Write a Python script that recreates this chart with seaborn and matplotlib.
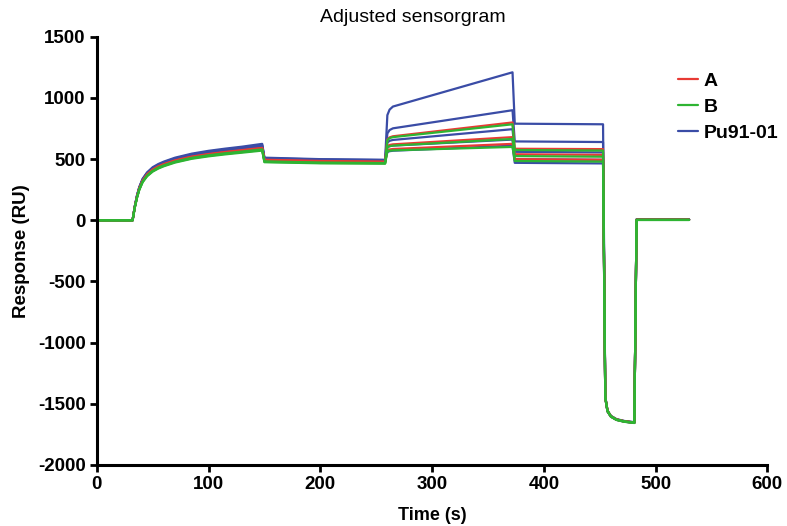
import numpy as np
import pandas as pd
import matplotlib
matplotlib.use("Agg")
import matplotlib.pyplot as plt
import seaborn as sns

# shared time grid (s)
time_s = [0, 32, 34, 36, 38, 41, 45, 50, 55, 60, 70, 85, 100, 115, 130, 148,
          150, 200, 258, 260, 262, 265, 372, 374, 453, 455, 457, 460, 465, 472, 481,
          483, 530]

# Pu91-01 curves (RU)
pu_1 = [0, 0, 115, 205, 272, 340, 392, 434, 460, 480, 512, 545, 568, 586, 602, 625,
        512, 500, 495, 860, 905, 930, 1210, 790, 785, -1440, -1555, -1598, -1625, -1640, -1650,
        8, 8]
pu_2 = [0, 0, 113, 202, 268, 335, 387, 428, 454, 474, 506, 538, 561, 579, 595, 615,
        508, 497, 492, 710, 738, 752, 900, 645, 640, -1445, -1558, -1600, -1627, -1642, -1652,
        6, 6]
pu_3 = [0, 0, 112, 200, 265, 332, 383, 424, 450, 470, 501, 533, 555, 573, 589, 608,
        505, 494, 489, 635, 650, 657, 745, 560, 555, -1448, -1560, -1602, -1628, -1643, -1653,
        6, 6]
pu_4 = [0, 0, 111, 198, 263, 329, 380, 420, 446, 466, 497, 528, 550, 568, 584, 602,
        500, 490, 486, 597, 606, 611, 660, 500, 495, -1450, -1562, -1604, -1630, -1645, -1655,
        5, 5]
pu_5 = [0, 0, 110, 196, 260, 326, 377, 417, 443, 462, 493, 524, 546, 563, 579, 597,
        496, 486, 483, 558, 565, 569, 610, 470, 465, -1452, -1563, -1605, -1631, -1646, -1656,
        5, 5]

# A curves (RU)
a_1 = [0, 0, 110, 195, 260, 325, 376, 416, 441, 460, 490, 521, 542, 559, 574, 592,
       495, 485, 480, 660, 678, 687, 800, 585, 582, -1445, -1556, -1600, -1627, -1642, -1652,
       5, 5]
a_2 = [0, 0, 109, 193, 258, 322, 373, 412, 438, 457, 487, 518, 539, 556, 571, 588,
       492, 482, 477, 607, 616, 621, 680, 540, 535, -1448, -1559, -1602, -1629, -1644, -1654,
       4, 4]
a_3 = [0, 0, 108, 191, 256, 320, 370, 409, 435, 454, 484, 515, 536, 552, 567, 584,
       488, 478, 474, 573, 579, 583, 625, 500, 495, -1450, -1561, -1604, -1630, -1645, -1655,
       4, 4]

# B curves (RU)
b_1 = [0, 0, 107, 189, 253, 317, 366, 405, 431, 450, 480, 511, 532, 548, 562, 580,
       482, 472, 468, 655, 672, 680, 785, 575, 570, -1446, -1557, -1601, -1628, -1643, -1653,
       4, 4]
b_2 = [0, 0, 106, 187, 251, 314, 363, 402, 427, 446, 476, 507, 528, 544, 558, 575,
       478, 469, 466, 597, 606, 611, 665, 525, 520, -1449, -1560, -1603, -1630, -1645, -1655,
       3, 3]
b_3 = [0, 0, 105, 185, 248, 311, 360, 398, 423, 442, 472, 503, 523, 539, 553, 570,
       475, 466, 463, 563, 569, 572, 600, 485, 480, -1451, -1562, -1605, -1632, -1647, -1657,
       3, 3]

curves = {
    "Pu91-01": [pu_1, pu_2, pu_3, pu_4, pu_5],
    "A": [a_1, a_2, a_3],
    "B": [b_1, b_2, b_3],
}
colors = {"A": "#e83a34", "B": "#2eb432", "Pu91-01": "#3a4ca6"}

rows = []
for sample, runs in curves.items():
    for i, resp in enumerate(runs):
        for t, r in zip(time_s, resp):
            rows.append({"Time": t, "Response": r, "sample": sample, "run": f"{sample}_{i}"})
df = pd.DataFrame(rows)

sns.set_style("ticks", {"axes.edgecolor": "black", "text.color": "black",
                        "axes.labelcolor": "black", "xtick.color": "black",
                        "ytick.color": "black"})
plt.rcParams["font.family"] = ["Liberation Sans", "DejaVu Sans"]
plt.rcParams["axes.unicode_minus"] = False

fig = plt.figure(figsize=(7.87, 5.26), dpi=100)
ax = fig.add_axes([0.123, 0.116, 0.852, 0.814])

for sample in ["Pu91-01", "A", "B"]:
    sub = df[df["sample"] == sample]
    sns.lineplot(data=sub, x="Time", y="Response", units="run", estimator=None,
                 color=colors[sample], linewidth=1.6, ax=ax, legend=False)

# legend handles in A, B, Pu91-01 order
handles = [plt.Line2D([], [], color=colors[k], linewidth=1.6) for k in ["A", "B", "Pu91-01"]]
leg = ax.legend(handles, ["A", "B", "Pu91-01"], loc="upper left",
                bbox_to_anchor=(0.862, 0.862), bbox_transform=fig.transFigure,
                frameon=False, fontsize=14, handlelength=1.0, handletextpad=0.3,
                labelspacing=0.42, borderpad=0, borderaxespad=0)
for txt in leg.get_texts():
    txt.set_fontweight("bold")
    txt.set_color("black")

ax.set_xlim(0, 600)
ax.set_ylim(-2000, 1500)
ax.set_xticks(range(0, 601, 100))
ax.set_yticks(range(-2000, 1501, 500))
ax.set_xlabel("Time (s)", fontsize=13, fontweight="bold", labelpad=10)
ax.set_ylabel("Response (RU)", fontsize=13.5, fontweight="bold", labelpad=6)
ax.set_title("Adjusted sensorgram", fontsize=14, x=0.472, pad=11, color="black")

sns.despine(ax=ax)
for side in ["left", "bottom"]:
    ax.spines[side].set_linewidth(2.2)
ax.tick_params(axis="both", length=5, width=2, labelsize=13.5, pad=3)
for lab in ax.get_xticklabels() + ax.get_yticklabels():
    lab.set_fontweight("bold")

fig.savefig("out.png", dpi=100)
